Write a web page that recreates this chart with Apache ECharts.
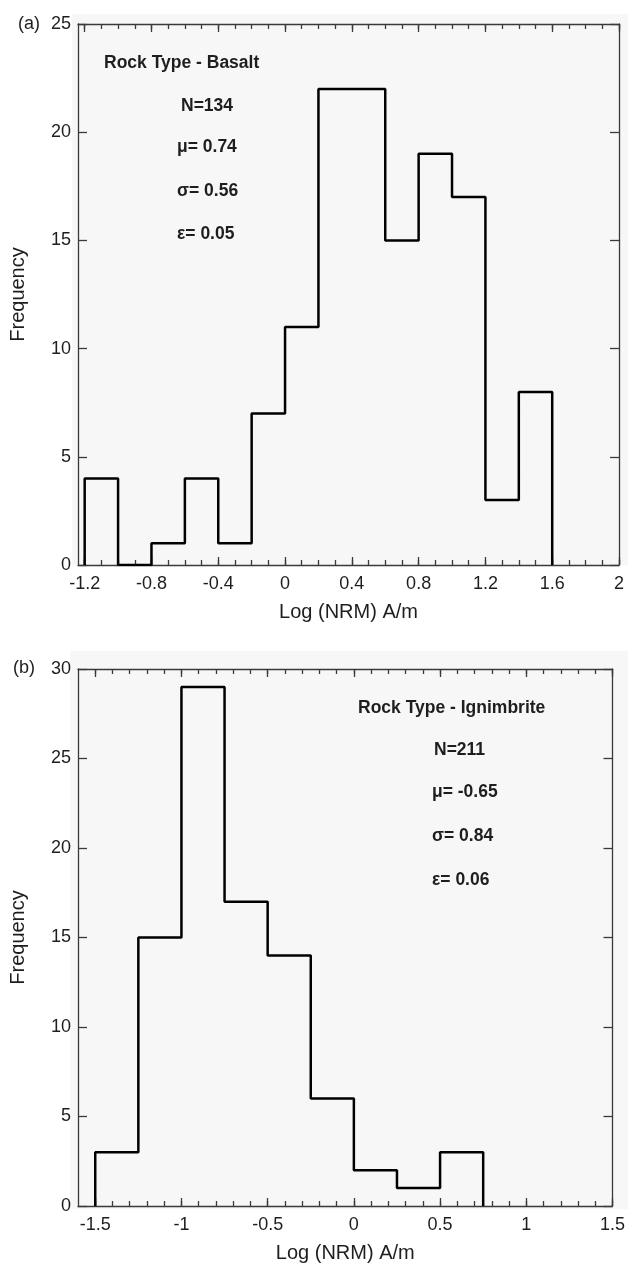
<!DOCTYPE html>
<html>
<head>
<meta charset="utf-8">
<script src="https://cdn.jsdelivr.net/npm/echarts@6/dist/echarts.min.js"></script>
<style>
    * {
        margin: 0;
        padding: 0;
    }
    html, body {
        background: #fff;
    }
    #main {
        width: 628px;
        height: 1264px;
    }
</style>
</head>
<body>
<div id="main"></div>
<script>
    // (a) basalt - bin edges and counts
    let basaltEdges = [-1.2, -1.0, -0.8, -0.6, -0.4, -0.2, 0, 0.2, 0.4, 0.6, 0.8, 1.0, 1.2, 1.4, 1.6]
    let basaltCounts = [4, 0, 1, 4, 1, 7, 11, 22, 22, 15, 19, 17, 3, 8]
    let basaltTicks = [-1.2, -0.8, -0.4, 0, 0.4, 0.8, 1.2, 1.6, 2]
    let basaltMinor = [-1.2, -1.1, -1.0, -0.9, -0.8, -0.7, -0.6, -0.5, -0.4, -0.3, -0.2, -0.1, 0,
        0.1, 0.2, 0.3, 0.4, 0.5, 0.6, 0.7, 0.8, 0.9, 1.0, 1.1, 1.2, 1.3, 1.4, 1.5, 1.6, 1.7, 1.8, 1.9, 2.0]
    let basaltText = ['Rock Type - Basalt', 'N=134', 'μ= 0.74', 'σ= 0.56', 'ε= 0.05']

    // (b) ignimbrite
    let ignEdges = [-1.5, -1.25, -1, -0.75, -0.5, -0.25, 0, 0.25, 0.5, 0.75]
    let ignCounts = [3, 15, 29, 17, 14, 6, 2, 1, 3]
    let ignTicks = [-1.5, -1, -0.5, 0, 0.5, 1, 1.5]
    let ignMinor = [-1.5, -1.4, -1.3, -1.2, -1.1, -1.0, -0.9, -0.8, -0.7, -0.6, -0.5, -0.4, -0.3, -0.2, -0.1, 0,
        0.1, 0.2, 0.3, 0.4, 0.5, 0.6, 0.7, 0.8, 0.9, 1.0, 1.1, 1.2, 1.3, 1.4, 1.5]
    let ignText = ['Rock Type - Ignimbrite', 'N=211', 'μ= -0.65', 'σ= 0.84', 'ε= 0.06']

    let axisColor = '#3a3a3a'
    let textColor = '#1e1e1e'
    let font = '"Liberation Sans", Arial, sans-serif'

    // outline of the histogram: step line through the bin edges
    function stepData(edges, counts) {
        let d = [[edges[0], 0]]
        counts.forEach(function (c, i) {
            d.push([edges[i], c])
        })
        d.push([edges[edges.length - 1], 0])
        return d
    }

    function xAx(grid, min, max, pos, ticks, len, major, labels) {
        return {
            type: 'value',
            gridIndex: grid,
            position: pos,
            min: min,
            max: max,
            axisLine: {show: major, onZero: false, lineStyle: {color: axisColor, width: 1.3}},
            axisTick: {show: true, inside: true, length: len, customValues: ticks,
                lineStyle: {color: axisColor, width: 1.3}},
            axisLabel: labels ? {show: true, customValues: ticks, margin: 10, fontSize: 18,
                fontFamily: font, color: textColor} : {show: false},
            splitLine: {show: false},
            name: labels ? 'Log (NRM) A/m' : '',
            nameLocation: 'middle',
            nameGap: 37,
            nameTextStyle: {fontSize: 20, fontFamily: font, color: textColor}
        }
    }

    function yAx(grid, max, pos, labels) {
        return {
            type: 'value',
            gridIndex: grid,
            position: pos,
            min: 0,
            max: max,
            interval: 5,
            axisLine: {show: true, onZero: false, lineStyle: {color: axisColor, width: 1.3}},
            axisTick: {show: true, inside: true, length: 9, lineStyle: {color: axisColor, width: 1.3}},
            axisLabel: labels ? {show: true, margin: 7, fontSize: 18, fontFamily: font, color: textColor}
                : {show: false},
            splitLine: {show: false},
            name: labels ? 'Frequency' : '',
            nameLocation: 'middle',
            nameGap: 50,
            nameTextStyle: {fontSize: 20, fontFamily: font, color: textColor}
        }
    }

    function textBlock(lines, pos) {
        return lines.map(function (t, i) {
            return {
                type: 'text',
                left: pos[i][0],
                top: pos[i][1] - 10,
                z: 100,
                style: {text: t, font: 'bold 17.5px ' + font, fill: textColor}
            }
        })
    }

    let myChart = echarts.init(document.getElementById('main'))
    let option = {
        animation: false,
        backgroundColor: '#fff',
        grid: [
            {left: 77, top: 24, width: 542, height: 541},
            {left: 77, top: 669, width: 542, height: 540}
        ],
        xAxis: [
            xAx(0, -1.24, 2, 'bottom', basaltTicks, 8, true, true),
            xAx(0, -1.24, 2, 'bottom', basaltMinor, 5, false, false),
            xAx(0, -1.24, 2, 'top', basaltTicks, 8, true, false),
            xAx(0, -1.24, 2, 'top', basaltMinor, 5, false, false),
            xAx(1, -1.6, 1.5, 'bottom', ignTicks, 8, true, true),
            xAx(1, -1.6, 1.5, 'bottom', ignMinor, 5, false, false),
            xAx(1, -1.6, 1.5, 'top', ignTicks, 8, true, false),
            xAx(1, -1.6, 1.5, 'top', ignMinor, 5, false, false)
        ],
        yAxis: [
            yAx(0, 25, 'left', true),
            yAx(0, 25, 'right', false),
            yAx(1, 30, 'left', true),
            yAx(1, 30, 'right', false)
        ],
        graphic: [
            {type: 'rect', z: -100, shape: {x: 72, y: 14, width: 556, height: 551}, style: {fill: '#f7f7f7'}},
            {type: 'rect', z: -100, shape: {x: 70, y: 651, width: 558, height: 558}, style: {fill: '#f7f7f7'}},
            {type: 'text', left: 18, top: 15, z: 100, style: {text: '(a)', font: '18px ' + font, fill: textColor}},
            {type: 'text', left: 13, top: 659, z: 100, style: {text: '(b)', font: '18px ' + font, fill: textColor}}
        ].concat(
            textBlock(basaltText, [[104, 64], [181, 107], [177, 148], [177, 192], [177, 235]]),
            textBlock(ignText, [[358, 709], [434, 751], [432, 793], [432, 837], [432, 881]])
        ),
        series: [
            {
                name: 'Basalt',
                type: 'line',
                xAxisIndex: 0,
                yAxisIndex: 0,
                step: 'end',
                showSymbol: false,
                lineStyle: {color: '#000', width: 2.5},
                data: stepData(basaltEdges, basaltCounts)
            },
            {
                name: 'Ignimbrite',
                type: 'line',
                xAxisIndex: 4,
                yAxisIndex: 2,
                step: 'end',
                showSymbol: false,
                lineStyle: {color: '#000', width: 2.5},
                data: stepData(ignEdges, ignCounts)
            }
        ]
    }
    myChart.setOption(option)
</script>
</body>
</html>
